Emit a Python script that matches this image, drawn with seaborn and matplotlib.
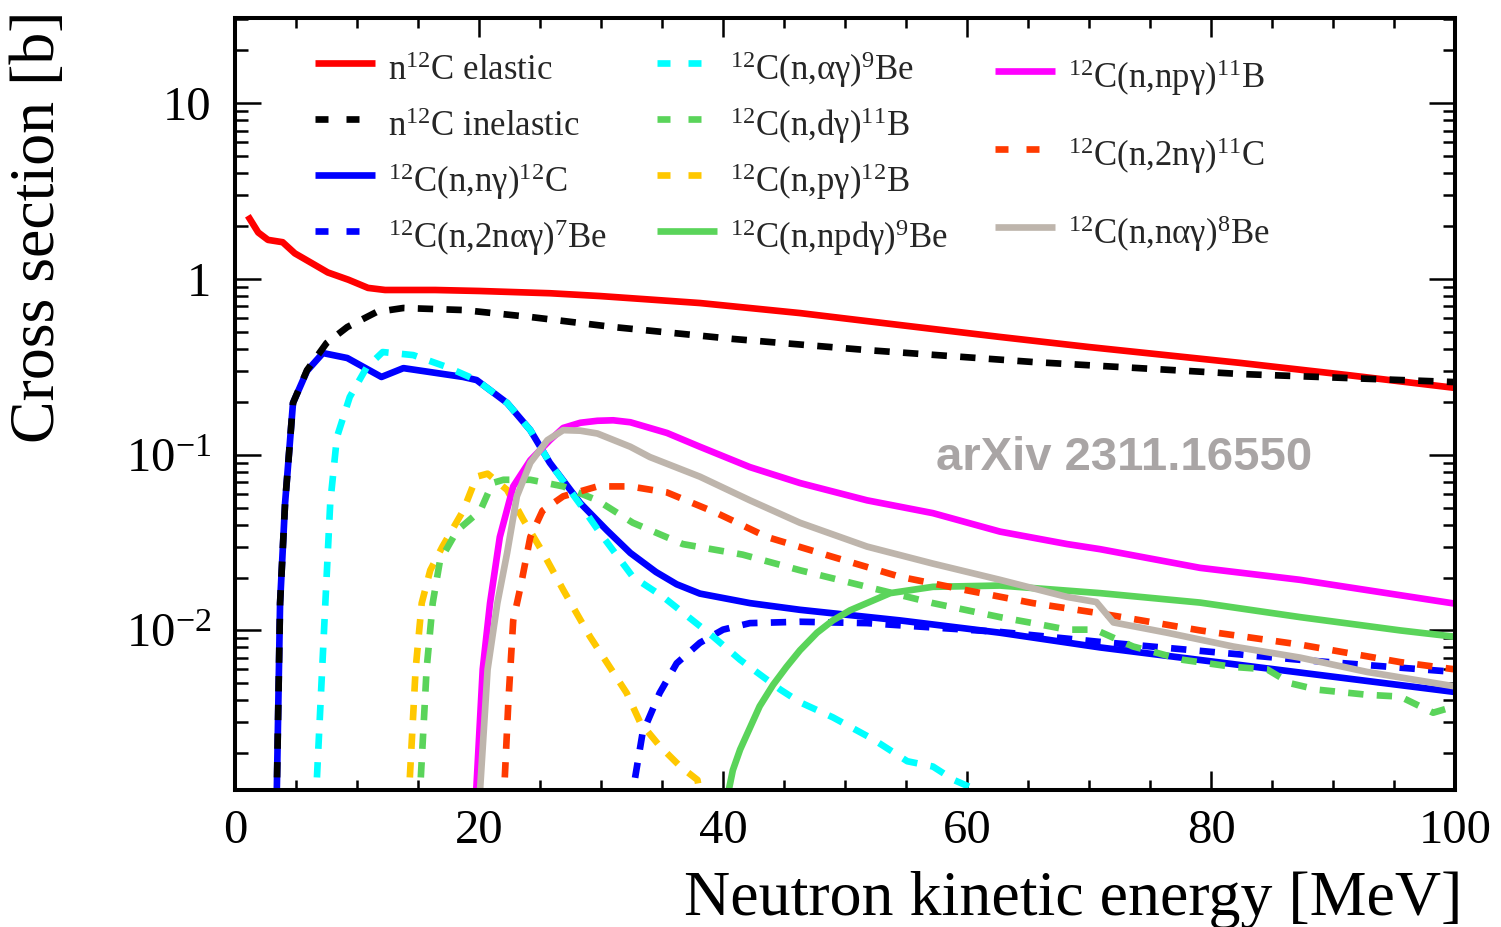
import matplotlib
matplotlib.use("Agg")
import matplotlib.pyplot as plt
import seaborn as sns
import pandas as pd
from matplotlib.ticker import MultipleLocator, LogLocator, NullFormatter

# ---------------- data ----------------
e_elastic = [1.05, 1.9, 2.7, 3.9, 4.9, 6.3, 7.6, 9.3, 10.9, 12.3, 16.4, 20, 25.8, 29.9, 38.1, 46.3, 54.5, 62.7, 70, 82.4, 91, 100]
xs_elastic = [2.29, 1.84, 1.67, 1.62, 1.40, 1.23, 1.09, 0.99, 0.89, 0.866, 0.866, 0.855, 0.83, 0.80, 0.73, 0.64, 0.547, 0.468, 0.41, 0.333, 0.285, 0.24]

e_inel = [3.4, 3.69, 4.1, 4.75, 5.9, 7.5, 9.2, 11.6, 13.8, 18.7, 24.2, 31.0, 40.8, 51.8, 65.4, 82.4, 100]
xs_inel = [1.0e-3, 0.0143, 0.053, 0.197, 0.303, 0.432, 0.533, 0.649, 0.684, 0.666, 0.608, 0.533, 0.456, 0.394, 0.337, 0.288, 0.259]

e_nng = [3.4, 3.69, 4.1, 4.75, 5.9, 7.2, 9.2, 12.0, 13.8, 18.7, 19.8, 22.3, 24.2, 25.8, 28.3, 30.5, 32.4, 34.5, 36.2, 38.1, 42.2, 46.3, 54.5, 62.7, 70.9, 100]
xs_nng = [1.0e-3, 0.0143, 0.053, 0.197, 0.30, 0.379, 0.355, 0.277, 0.311, 0.277, 0.266, 0.197, 0.138, 0.09, 0.053, 0.037, 0.0276, 0.0215, 0.0183, 0.0162, 0.0143, 0.0131, 0.0114, 0.0097, 0.0080, 0.00446]

e_2nag = [32.4, 33.4, 34.8, 36.2, 38.1, 40, 42.2, 46.3, 51.8, 62.7, 70.9, 87.3, 100]
xs_2nag = [1.0e-3, 0.0026, 0.0044, 0.0065, 0.0085, 0.0101, 0.011, 0.0112, 0.011, 0.0098, 0.0086, 0.0068, 0.0058]

e_ag = [6.6, 7.4, 7.8, 8.35, 9.4, 10.8, 12.1, 14.6, 17.4, 19.8, 22.3, 24.2, 25.8, 28.3, 29.9, 32.6, 35.1, 39.2, 41.4, 44.7, 46.3, 49, 52.3, 55.1, 57.2, 58.9, 60.5, 61.0]
xs_ag = [1.0e-3, 0.0143, 0.053, 0.126, 0.213, 0.315, 0.384, 0.369, 0.315, 0.266, 0.197, 0.138, 0.09, 0.052, 0.036, 0.0202, 0.0155, 0.0092, 0.0068, 0.0046, 0.0039, 0.0032, 0.0024, 0.0018, 0.00168, 0.00141, 0.00126, 1.0e-3]

e_dg = [15.1, 15.7, 16.2, 16.8, 18.2, 20.1, 21.1, 22, 24.2, 26.9, 29.7, 32.6, 36.7, 41.6, 46.3, 51.8, 57.2, 62.7, 65.4, 68.2, 70.5, 73.6, 77.7, 81.8, 84.6, 86.5, 88.7, 92.8, 95.5, 98.2, 100]
xs_dg = [1.0e-3, 0.006, 0.0143, 0.025, 0.037, 0.048, 0.069, 0.072, 0.072, 0.066, 0.055, 0.041, 0.031, 0.027, 0.022, 0.0177, 0.0143, 0.0119, 0.011, 0.0101, 0.0101, 0.0081, 0.0068, 0.0062, 0.006, 0.005, 0.0046, 0.0043, 0.0042, 0.0034, 0.0037]

e_pg = [14.2, 14.8, 15.3, 16, 17, 18.7, 19.8, 20.7, 22.3, 23.6, 25.2, 26.9, 29.1, 32.1, 33.2, 34.8, 36.5, 37.9, 38.3]
xs_pg = [1.0e-3, 0.006, 0.0143, 0.022, 0.03, 0.048, 0.075, 0.078, 0.063, 0.043, 0.028, 0.017, 0.0092, 0.0044, 0.003, 0.0022, 0.00168, 0.00141, 1.0e-3]

e_npdg = [40.2, 40.8, 41.4, 43, 44.1, 45.2, 46.3, 47.7, 49, 50.4, 53.7, 57.2, 62.7, 70.9, 79.1, 87.3, 95.5, 100]
xs_npdg = [1.0e-3, 0.0016, 0.0021, 0.0037, 0.0049, 0.0062, 0.0077, 0.0097, 0.0114, 0.013, 0.0163, 0.0177, 0.0180, 0.0163, 0.0144, 0.0119, 0.01, 0.0092]

e_npg = [19.7, 20.3, 20.9, 21.7, 22.8, 24.2, 25.8, 26.9, 28.3, 29.7, 31.0, 32.4, 35.4, 38.1, 42.2, 46.3, 51.8, 57.2, 62.7, 68.2, 70.9, 79.1, 87.3, 100]
xs_npg = [1.0e-3, 0.006, 0.0143, 0.034, 0.066, 0.093, 0.121, 0.142, 0.152, 0.156, 0.157, 0.153, 0.133, 0.111, 0.085, 0.069, 0.055, 0.0465, 0.0365, 0.031, 0.029, 0.0227, 0.0194, 0.0142]

e_2ng = [22.0, 22.4, 22.8, 23.4, 24.2, 25.2, 26.9, 29.7, 32.4, 35.4, 39.5, 43.6, 49, 54.5, 60, 65.4, 70.9, 79.1, 87.3, 95.5, 100]
xs_2ng = [1.0e-3, 0.0039, 0.0114, 0.0177, 0.034, 0.048, 0.058, 0.066, 0.066, 0.061, 0.0465, 0.034, 0.0262, 0.0202, 0.0169, 0.0143, 0.0125, 0.01, 0.0083, 0.0066, 0.006]

e_nag = [20.0, 20.7, 21.5, 22.3, 23.1, 24.2, 25.6, 26.9, 28.3, 29.7, 32.4, 34, 38.1, 42.2, 46.3, 51.8, 57.2, 62.7, 68.2, 70.6, 72, 76.4, 81.8, 87.3, 92.8, 100]
xs_nag = [1.0e-3, 0.006, 0.0143, 0.0276, 0.058, 0.09, 0.121, 0.138, 0.137, 0.132, 0.111, 0.097, 0.075, 0.055, 0.041, 0.03, 0.024, 0.0194, 0.0155, 0.0145, 0.0111, 0.0097, 0.0081, 0.0070, 0.0058, 0.0048]

labels = {
    "elastic": r"n$^{12}$C elastic",
    "inel": r"n$^{12}$C inelastic",
    "nng": r"$^{12}$C(n,nγ)$^{12}$C",
    "2nag": r"$^{12}$C(n,2nαγ)$^{7}$Be",
    "ag": r"$^{12}$C(n,αγ)$^{9}$Be",
    "dg": r"$^{12}$C(n,dγ)$^{11}$B",
    "pg": r"$^{12}$C(n,pγ)$^{12}$B",
    "npdg": r"$^{12}$C(n,npdγ)$^{9}$Be",
    "npg": r"$^{12}$C(n,npγ)$^{11}$B",
    "2ng": r"$^{12}$C(n,2nγ)$^{11}$C",
    "nag": r"$^{12}$C(n,nαγ)$^{8}$Be",
}

xtick_vals = [0, 20, 40, 60, 80, 100]
xtick_labels = ["0", "20", "40", "60", "80", "100"]
ytick_vals = [0.01, 0.1, 1, 10]
ytick_labels = [r"$10^{-2}$", r"$10^{-1}$", "1", "10"]

# ---------------- style ----------------
sns.set_theme(style="ticks")
plt.rcParams['font.family'] = ['Liberation Serif', 'DejaVu Serif']
plt.rcParams['mathtext.fontset'] = 'custom'
plt.rcParams['mathtext.rm'] = 'Liberation Serif'
plt.rcParams['mathtext.it'] = 'Liberation Serif:italic'
plt.rcParams['mathtext.bf'] = 'Liberation Serif:bold'

fig = plt.figure(figsize=(15.01, 9.27), dpi=100)
ax = fig.add_axes([0.1566, 0.1478, 0.8128, 0.8328])

LW = 4.8
DASH = (0, (2.3, 2.0))
LEG_DASH = (0, (1.95, 2.7))

series = [
    ("nng", e_nng, xs_nng, "#0000ff", "-"),
    ("elastic", e_elastic, xs_elastic, "#ff0000", "-"),
    ("inel", e_inel, xs_inel, "#000000", DASH),
    ("2nag", e_2nag, xs_2nag, "#0000ff", DASH),
    ("ag", e_ag, xs_ag, "#00ffff", DASH),
    ("pg", e_pg, xs_pg, "#ffc800", DASH),
    ("dg", e_dg, xs_dg, "#5ad45a", DASH),
    ("npdg", e_npdg, xs_npdg, "#5ad45a", "-"),
    ("npg", e_npg, xs_npg, "#ff00ff", "-"),
    ("2ng", e_2ng, xs_2ng, "#ff3a00", DASH),
    ("nag", e_nag, xs_nag, "#beb5ac", "-"),
]

handles = {}
dashed_keys = set()
for key, e, xs, col, ls in series:
    df = pd.DataFrame({"E": e, "xs": xs})
    n_before = len(ax.lines)
    sns.lineplot(data=df, x="E", y="xs", ax=ax, color=col, linewidth=LW,
                 linestyle=ls, sort=False, estimator=None, legend=False)
    line = ax.lines[n_before]
    line.set_label(labels[key])
    line.set_solid_capstyle('butt')
    line.set_dash_capstyle('butt')
    line.set_solid_joinstyle('round')
    handles[key] = line
    if ls != "-":
        dashed_keys.add(key)

ax.set_yscale('log')
ax.set_xlim(0, 100)
ax.set_ylim(1.235e-3, 30.6)

ax.set_xticks(xtick_vals, xtick_labels)
ax.xaxis.set_minor_locator(MultipleLocator(5))
ax.set_yticks(ytick_vals, ytick_labels)
ax.yaxis.set_minor_locator(LogLocator(base=10, subs=range(2, 10), numticks=20))
ax.yaxis.set_minor_formatter(NullFormatter())

ax.tick_params(which='both', direction='in', top=True, right=True,
               color='black', width=1.8, labelsize=35, labelcolor='black')
ax.tick_params(axis='x', which='major', length=14, pad=14)
ax.tick_params(axis='x', which='minor', length=7)
ax.tick_params(axis='y', which='major', length=19, pad=17)
ax.tick_params(axis='y', which='minor', length=9)

for s in ax.spines.values():
    s.set_linewidth(2.9)
    s.set_color('black')
    s.set_visible(True)

ax.set_xlabel("Neutron kinetic energy [MeV]", fontsize=46, color='black',
              ha='right', va='baseline')
ax.xaxis.set_label_coords(1.006, -0.162)
ax.set_ylabel("Cross section [b]", fontsize=46, color='black', ha='right', va='bottom')
ax.yaxis.set_label_coords(-0.137, 1.010)

ax.text(0.729, 0.43, "arXiv 2311.16550", transform=ax.transAxes, ha='center',
        va='center', fontsize=34, fontweight='bold', family='Liberation Sans',
        color='#a9a5a5')

leg_kw = dict(frameon=False, fontsize=25, handlelength=1.73, handletextpad=0.37,
              handleheight=1.6, borderpad=0, borderaxespad=0, loc='upper left')

columns = [
    (["elastic", "inel", "nng", "2nag"], (0.0656, 0.9637), 0.33),
    (["ag", "dg", "pg", "npdg"], (0.346, 0.9637), 0.33),
    (["npg", "2ng", "nag"], (0.623, 0.9533), 0.96),
]
legs = []
for keys, anchor, spacing in columns:
    leg = ax.legend(handles=[handles[k] for k in keys], bbox_to_anchor=anchor,
                    labelspacing=spacing, **leg_kw)
    for k, lh in zip(keys, leg.get_lines()):
        if k in dashed_keys:
            lh.set_linestyle(LEG_DASH)
            lh.set_dash_capstyle('butt')
    legs.append(leg)
for leg in legs[:-1]:
    ax.add_artist(leg)

fig.savefig("out.png", dpi=100, facecolor='white')
